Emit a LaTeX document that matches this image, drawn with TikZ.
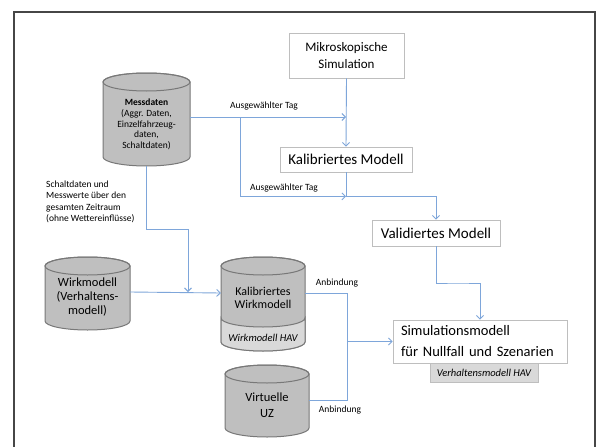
\documentclass[tikz,border=0pt]{standalone}
\usepackage{fontspec}
\setmainfont{Carlito}
\usepackage{tikz}
\usetikzlibrary{arrows.meta, positioning, calc}
\usepackage{xcolor}
\definecolor{linkblue}{RGB}{126, 166, 218}
\definecolor{cylgray}{RGB}{191, 191, 191}
\definecolor{cylborder}{RGB}{120, 120, 120}
\definecolor{bandgray}{RGB}{217, 217, 217}
\definecolor{boxborder}{RGB}{190, 190, 190}
\definecolor{framegray}{RGB}{70, 70, 70}

% Zylinder: Mitte x, Radius x, oberer Rand, unterer Rand
\newcommand{\datacyl}[4]{%
  \filldraw[fill=cylgray, draw=cylborder, line width=1pt]
    ({#1-#2},{#3+9}) -- ({#1-#2},{#4-9})
    arc[start angle=180, end angle=0, x radius=#2, y radius=9]
    -- ({#1+#2},{#3+9})
    arc[start angle=0, end angle=-180, x radius=#2, y radius=9] -- cycle;
  \draw[draw=cylborder, line width=1pt] (#1,{#3+9}) ellipse[x radius=#2, y radius=9];
}

\tikzset{
  modelbox/.style={draw=boxborder, fill=white, line width=0.8pt, align=center,
    inner sep=0pt, font=\fontsize{15}{18}\selectfont},
  cyltext/.style={inner sep=0pt, align=center},
  link/.style={draw=linkblue, line width=0.9pt},
  linkarrow/.style={link, -{Straight Barb[length=3.5pt, width=7pt]}},
  linklabel/.style={font=\fontsize{9.5}{11}\selectfont, inner sep=0pt},
}

\begin{document}
\begin{tikzpicture}[x=1pt, y=-1pt]
    \useasboundingbox[fill=white] (0,0) rectangle (597,447);
    \draw[framegray, line width=1.2pt] (14,447) -- (14,12) -- (595,12) -- (595,447);

    % Datenbanken
    \datacyl{146.5}{43.5}{73}{166}
    \node[cyltext, minimum width=87pt, minimum height=83pt,
          font=\fontsize{9.5}{10.8}\selectfont] (mess) at (146.5,124.5)
          {\textbf{Messdaten}\\(Aggr. Daten,\\Einzelfahrzeug-\\daten,\\Schaltdaten)};

    \datacyl{87.5}{42.5}{257}{330}
    \node[cyltext, minimum width=85pt, font=\fontsize{12.5}{14}\selectfont] (wirk) at (87.5,297)
          {Wirkmodell\\(Verhaltens-\\modell)};

    \datacyl{263}{42}{257}{351}
    \fill[bandgray, draw=cylborder, line width=1pt] (221,318)
      arc[start angle=180, end angle=0, x radius=42, y radius=9]
      -- (305,342) arc[start angle=0, end angle=180, x radius=42, y radius=9] -- cycle;
    \node[cyltext, minimum width=84pt, font=\fontsize{12}{13.5}\selectfont] (kwm) at (263,298)
          {Kalibriertes\\Wirkmodell};
    \node[cyltext, font=\fontsize{10.5}{12}\selectfont\itshape] (kwmhav) at (263,338) {Wirkmodell HAV};

    \datacyl{267}{42}{365}{437}
    \node[cyltext, minimum width=84pt, font=\fontsize{12.5}{16}\selectfont] (virt) at (267,405)
          {Virtuelle\\UZ};

    % Modelle
    \node[modelbox, minimum width=115pt, minimum height=45pt, font=\fontsize{13}{17}\selectfont]
          (mikro) at (346.5,55.5) {Mikroskopische\\Simulation};
    \node[modelbox, minimum width=132pt, minimum height=25pt] (kalm) at (346,159.5)
          {Kalibriertes Modell};
    \node[modelbox, minimum width=128pt, minimum height=26pt] (valm) at (436,233)
          {Validiertes Modell};
    \node[modelbox, text width=158pt, inner xsep=8pt, minimum height=43pt, align=left,
          font=\fontsize{14.5}{21}\selectfont] (simm) at (480,341.5)
          {Simulationsmodell\\für Nullfall und Szenarien};
    \node[draw=boxborder, fill=bandgray, minimum width=108pt, minimum height=19pt, inner sep=0pt,
          font=\fontsize{10.5}{12}\selectfont\itshape, below=0pt of simm, xshift=4pt] (hav)
          {Verhaltensmodell HAV};

    % Verbindungen
    \coordinate (abzw) at (240,117);
    \coordinate (knick) at ([yshift=-24pt]kalm.south);
    \coordinate (einm) at (188,292);
    \coordinate (anb) at ([xshift=-45pt]simm.west);

    \draw[linkarrow] ([yshift=7.5pt]mess.east) -- ([yshift=7.5pt]mess.east -| kalm.north);
    \node[linklabel] (tag1) at (264,106) {Ausgewählter Tag};
    \draw[linkarrow] (abzw) |- (knick);
    \node[linklabel] (tag2) at (284,188) {Ausgewählter Tag};
    \draw[linkarrow] (mikro.south) -- (kalm.north);
    \draw[linkarrow] (kalm.south) -- (knick) -| (valm.north);
    \draw[linkarrow] (valm.south) |- ($(valm.south)!0.5!(simm.north)$) -| (simm.north);

    \draw[linkarrow] (mess.south) -- ++(0,63) -| (einm);
    \node[linklabel, anchor=west, align=left, font=\fontsize{9.5}{11.3}\selectfont] (schalt) at (46,202)
          {Schaltdaten und\\Messwerte über den\\gesamten Zeitraum\\(ohne Wettereinflüsse)};
    \draw[linkarrow] ([yshift=5pt]wirk.east) -- ([yshift=5pt]kwm.west);

    \draw[link] ([yshift=5pt]kwm.east) -| (anb) |- ([yshift=5pt]virt.east);
    \draw[linkarrow] (anb) -- (simm.west);
    \node[linklabel] (anb1) at (337,283) {Anbindung};
    \node[linklabel] (anb2) at (340,410) {Anbindung};
\end{tikzpicture}
\end{document}
